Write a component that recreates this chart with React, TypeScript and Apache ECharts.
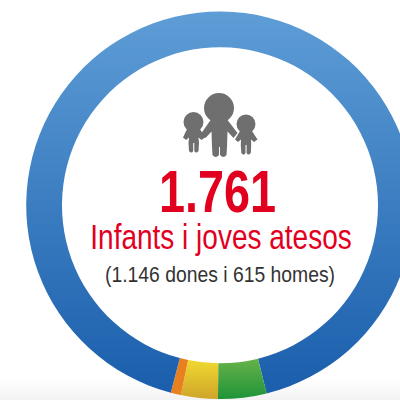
import React, { useEffect, useRef } from "react";
import * as echarts from "echarts";

const categories = ["Groc", "Taronja", "Blau", "Verd"];
const values = [54, 15, 1621, 71];
const title = "1.761";
const subtitle = "Infants i joves atesos";
const note = "(1.146 dones i 615 homes)";

const circle = (cx: number, cy: number, r: number) =>
  `M${cx - r} ${cy}A${r} ${r} 0 1 0 ${cx + r} ${cy}A${r} ${r} 0 1 0 ${cx - r} ${cy}Z`;

const FAMILY =
  circle(219, 108, 15) +
  "M212 118L201.5 133L205.5 138L211.5 131.5L212 147L212.5 155Q215.5 159 219 155L219 147L220 147L220 155Q223.5 159 226.5 155L227 147L227.5 131.5L233.5 138L237.5 133L226 118Z" +
  circle(193.5, 122, 10) +
  "M187 129L183 137.5L186 140L189 137.5L188.5 143L189 151Q191.5 154 193.2 151L193.2 143L194.3 143L194.3 151Q196 154 198.5 151L199 143L198.5 137.5L201.5 140L205 137.5L200 129Z" +
  circle(246, 124, 9.5) +
  "M240 131L235 139.5L238 142L241 139.5L240.8 145L241.3 153Q243.8 156 245.5 153L245.5 145L246.6 145L246.6 153Q248.3 156 250.8 153L251.2 145L251 139.5L254 142L257.5 139.5L252 131Z";

echarts.graphic.registerShape("family", echarts.graphic.extendPath(FAMILY, {}) as any);

export default function App() {
  const ref = useRef<HTMLDivElement>(null);
  useEffect(() => {
    const chart = echarts.init(ref.current!, null, { renderer: "svg" });
    const grad = (a: string, b: string) =>
      new echarts.graphic.LinearGradient(0, 0, 0, 1, [
        { offset: 0, color: a },
        { offset: 1, color: b },
      ]);
    const colors = [
      grad("#f0d92f", "#cfa42a"),
      "#e8801f",
      grad("#5e9dd6", "#1a5eac"),
      grad("#66b24a", "#1f9438"),
    ];
    chart.setOption({
      animation: false,
      backgroundColor: "#fff",
      series: [
        {
          type: "pie",
          center: [220, 205.3],
          radius: [158, 193.8],
          startAngle: 269.4,
          clockwise: true,
          silent: true,
          label: { show: false },
          labelLine: { show: false },
          itemStyle: { borderWidth: 0 },
          data: categories.map((name, i) => ({
            name,
            value: values[i],
            itemStyle: { color: colors[i] },
          })),
        },
      ],
      graphic: [
        {
          type: "rect",
          z: -1,
          shape: { x: 0, y: 378, width: 400, height: 22 },
          style: {
            fill: new echarts.graphic.LinearGradient(0, 0, 0, 1, [
              { offset: 0, color: "#ffffff" },
              { offset: 1, color: "#f3f3f3" },
            ]),
          },
        },
        { type: "family", x: 0, y: 0, style: { fill: "#6f6f6f" } },
        {
          type: "text", x: 217.5, y: 191, scaleX: 0.78,
          style: { text: title, fill: "#e2001f", font: "bold 60px 'Liberation Sans'", textAlign: "center", textVerticalAlign: "middle" },
        },
        {
          type: "text", x: 221, y: 237, scaleX: 0.8,
          style: { text: subtitle, fill: "#e2001f", font: "35px 'Liberation Sans'", textAlign: "center", textVerticalAlign: "middle" },
        },
        {
          type: "text", x: 220, y: 274, scaleX: 0.86,
          style: { text: note, fill: "#333333", font: "22.5px 'Liberation Sans'", textAlign: "center", textVerticalAlign: "middle" },
        },
      ],
    });
    return () => chart.dispose();
  }, []);
  return <div ref={ref} style={{ width: 400, height: 400, position: "fixed", left: 0, top: 0 }} />;
}
